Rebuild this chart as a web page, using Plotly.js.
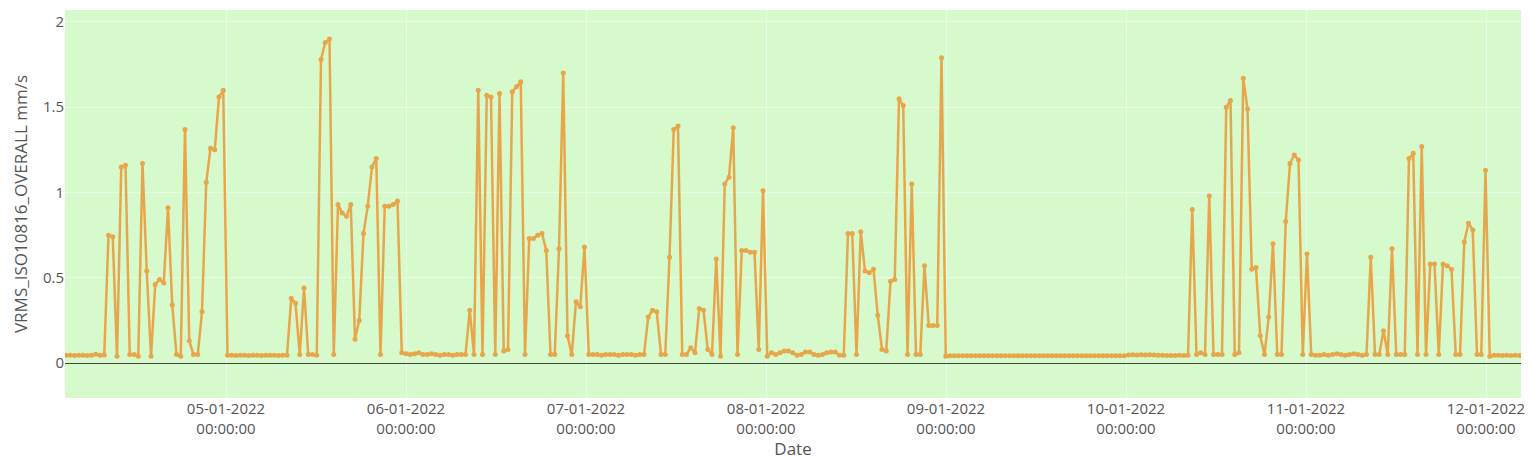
<!DOCTYPE html>
<html>
<head>
<meta charset="utf-8">
<script src="https://cdn.plot.ly/plotly-3.0.1.min.js"></script>
<style>html,body{margin:0;padding:0;background:#fff;}#chart{width:1536px;height:469px;}</style>
</head>
<body>
<div id="chart"></div>
<script>
// Sampling grid of the series (one reading every 34 minutes)
const startTime = Date.UTC(2022, 0, 4, 2, 40, 0);
const stepMinutes = 34;

// VRMS_ISO10816_OVERALL readings (mm/s)
const vrms = [
  // 04-01 early
  0.045,0.045,0.044,0.045,0.045,0.044,0.046,0.052,0.046,0.047,
  0.75,0.74,0.04,1.15,1.16,0.05,0.05,0.04,1.17,0.54,0.04,0.46,0.49,0.47,0.91,0.34,0.05,0.04,1.37,0.13,0.05,0.05,0.30,1.06,1.26,1.25,1.56,1.60,0.045,
  // 05-01
  0.045,0.044,0.046,0.045,0.044,0.045,0.045,0.044,0.045,0.046,0.045,0.044,0.045,0.046,
  0.38,0.35,0.05,0.44,0.05,0.05,0.045,1.78,1.88,1.90,0.05,0.93,0.88,0.86,0.93,0.14,0.25,0.76,0.92,1.15,1.20,0.05,0.92,0.92,0.93,0.95,0.06,
  // 06-01
  0.055,0.05,0.055,0.06,0.05,0.05,0.055,0.05,0.045,0.05,0.05,0.045,0.05,0.05,0.05,
  0.31,0.05,1.60,0.05,1.57,1.56,0.05,1.58,0.07,0.08,1.59,1.62,1.65,0.05,0.73,0.73,0.75,0.76,0.66,0.05,0.05,0.67,1.70,0.16,0.05,0.36,0.33,0.68,0.05,
  // 07-01
  0.05,0.05,0.045,0.05,0.05,0.05,0.045,0.05,0.05,0.05,0.045,0.05,0.05,
  0.27,0.31,0.30,0.05,0.05,0.62,1.37,1.39,0.05,0.05,0.09,0.06,0.32,0.31,0.08,0.05,0.61,0.04,1.05,1.09,1.38,0.05,0.66,0.66,0.65,0.65,0.08,1.01,0.04,
  // 08-01
  0.06,0.05,0.06,0.07,0.07,0.06,0.045,0.05,0.065,0.065,0.05,0.045,0.05,0.06,0.065,0.065,0.045,0.045,
  0.76,0.76,0.05,0.77,0.54,0.53,0.55,0.28,0.08,0.07,0.48,0.49,1.55,1.51,0.05,1.05,0.05,0.05,0.57,0.22,0.22,0.22,1.79,0.04,
  // 09-01 .. 10-01 quiet
  0.042,0.042,0.043,0.042,0.042,0.043,0.042,0.042,0.042,0.043,0.042,0.042,0.043,0.042,
  0.042,0.042,0.043,0.042,0.042,0.042,0.043,0.042,0.042,0.043,0.042,0.042,0.042,0.043,
  0.042,0.042,0.043,0.042,0.042,0.042,0.043,0.042,0.042,0.043,0.042,0.042,0.042,0.043,
  0.047,0.048,0.047,0.048,0.047,0.048,0.047,0.046,0.045,0.044,0.044,0.044,0.045,0.044,
  // 10-01 afternoon
  0.045,0.90,0.05,0.06,0.05,0.98,0.05,0.05,0.05,1.50,1.54,0.05,0.06,1.67,1.49,0.55,0.56,0.16,0.05,0.27,0.70,0.05,0.05,0.83,1.17,1.22,1.19,0.05,0.64,0.05,
  // 11-01
  0.045,0.045,0.05,0.045,0.05,0.055,0.05,0.045,0.05,0.055,0.05,0.045,0.05,
  0.62,0.05,0.05,0.19,0.05,0.67,0.05,0.05,0.05,1.20,1.23,0.05,1.27,0.05,0.58,0.58,0.05,0.58,0.57,0.55,0.05,0.05,0.71,0.82,0.78,0.05,0.05,1.13,0.04,
  // 12-01
  0.045,0.045,0.044,0.045,0.044,0.045,0.044
];

const yTickVals = [0, 0.5, 1, 1.5, 2];
const yTickText = ["0", "0.5", "1", "1.5", "2"];

const dates = vrms.map((_, i) =>
  new Date(startTime + i * stepMinutes * 60000).toISOString().replace('T', ' ').slice(0, 19));

const trace = {
  x: dates,
  y: vrms,
  type: 'scatter',
  mode: 'lines+markers',
  line: {color: '#e8a64b', width: 2.5},
  marker: {color: '#e8a64b', size: 5},
  showlegend: false
};

const layout = {
  width: 1536,
  height: 469,
  margin: {l: 65, r: 15, t: 10, b: 71},
  paper_bgcolor: '#ffffff',
  plot_bgcolor: '#d6facc',
  font: {family: '"Open Sans", Verdana, Arial, sans-serif', color: '#555', size: 15},
  xaxis: {
    type: 'date',
    range: ['2022-01-04 02:32:00', '2022-01-12 04:40:00'],
    tick0: '2022-01-05 00:00:00',
    dtick: 86400000,
    tickformat: '%d-%m-%Y<br>%H:%M:%S',
    gridcolor: '#ebfbe6',
    zeroline: false,
    showline: false,
    tickfont: {size: 15, color: '#555'},
    title: {text: 'Date', font: {size: 17, color: '#555'}, standoff: 4}
  },
  yaxis: {
    range: [-0.205, 2.07],
    tickvals: yTickVals,
    ticktext: yTickText,
    gridcolor: '#ebfbe6',
    zeroline: true,
    zerolinecolor: '#444',
    zerolinewidth: 1,
    tickfont: {size: 15, color: '#555'},
    title: {text: 'VRMS_ISO10816_OVERALL mm/s', font: {size: 17, color: '#555'}, standoff: 10}
  }
};

Plotly.newPlot('chart', [trace], layout, {displayModeBar: false, responsive: false});
</script>
</body>
</html>
